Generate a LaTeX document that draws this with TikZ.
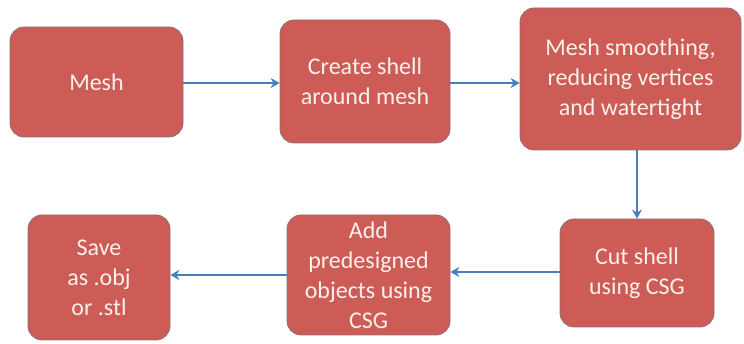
\documentclass[tikz,border=0pt]{standalone}
\usepackage{fontspec}
\setmainfont{Carlito}
\usetikzlibrary{arrows.meta}
\definecolor{boxfill}{RGB}{206,92,86}
\definecolor{boxedge}{RGB}{140,110,125}
\definecolor{arrowc}{RGB}{74,126,187}
\definecolor{txt}{RGB}{250,240,236}
\tikzset{
  x=1pt,y=-1pt,
  stepbox/.style={draw=boxedge, line width=0.8pt, fill=boxfill, rounded corners=14pt,
    text=txt, align=center, font=\fontsize{24}{30}\selectfont, inner sep=0pt},
  flow/.style={draw=arrowc, line width=2.2pt, -{Stealth[length=9pt,width=10pt,inset=3pt]}}
}
\begin{document}
\begin{tikzpicture}
\useasboundingbox (0,0) rectangle (744,344);
\node[stepbox, minimum width=173pt, minimum height=110pt] (mesh) at (96.5,82) {Mesh};
\node[stepbox, minimum width=170pt, minimum height=123pt] (shell) at (365,81.5) {Create shell\\around mesh};
\node[stepbox, minimum width=221pt, minimum height=142pt] (smooth) at (630.5,79) {Mesh smoothing,\\reducing vertices\\and watertight};
\node[stepbox, minimum width=154pt, minimum height=108pt] (cut) at (637,273) {Cut shell\\using CSG};
\node[stepbox, minimum width=163pt, minimum height=120pt] (add) at (368.5,275) {Add\\predesigned\\objects using\\CSG};
\node[stepbox, minimum width=142pt, minimum height=125pt] (save) at (99,277.5) {Save\\as .obj\\or .stl};
\draw[flow] (mesh.east |- 0,83) -- (shell.west |- 0,83);
\draw[flow] (shell.east |- 0,83) -- (smooth.west |- 0,83);
\draw[flow] (smooth.south -| 637,0) -- (cut.north);
\draw[flow] (cut.west |- 0,272) -- (add.east |- 0,272);
\draw[flow] (add.west |- 0,275) -- (save.east |- 0,275);
\end{tikzpicture}
\end{document}
